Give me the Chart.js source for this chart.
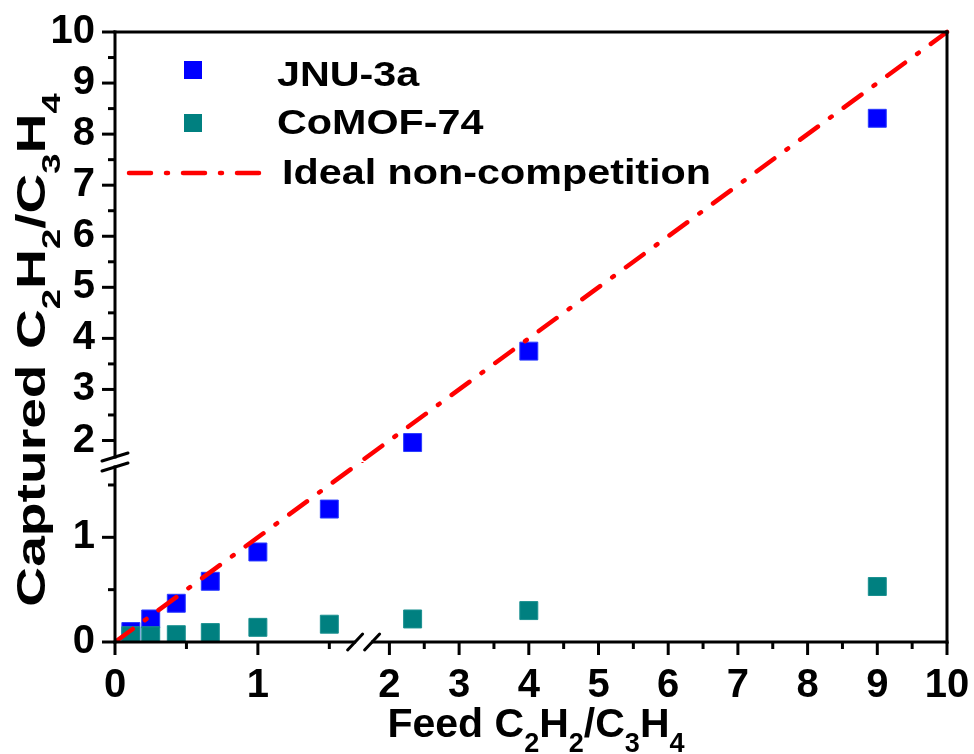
<!DOCTYPE html>
<html>
<head>
<meta charset="utf-8">
<script src="https://cdn.jsdelivr.net/npm/chart.js@4.4.1/dist/chart.umd.min.js"></script>
<style>
  html, body { margin: 0; padding: 0; background: #fff; }
  #wrap { width: 974px; height: 754px; }
</style>
</head>
<body>
<div id="wrap"><canvas id="chart"></canvas></div>
<script>
// feed C2H2/C3H4 ratios (1:9 ... 9:1)
const feedRatio = [0.111, 0.25, 0.429, 0.667, 1, 1.5, 2.333, 4, 9]
const jnu3a = [0.10, 0.22, 0.37, 0.58, 0.86, 1.27, 1.96, 3.75, 8.31]
const comof74 = [0.06, 0.06, 0.07, 0.09, 0.14, 0.17, 0.22, 0.30, 0.53]
const idealX = [0, 10]
const idealY = [0, 10]

// broken axes: lower part 0..lowMax, upper part highMin..10
const xLowMax = 1.74, xHighMin = 1.63
const yLowMax = 1.72, yHighMin = 1.58
const axisMax = 10
const lowZoom = 2.05 // the lower part is drawn about twice as wide per unit

const FONT = '"Liberation Sans", Arial, sans-serif'

const jnuStyle = { pointStyle: 'rect', pointRadius: 12.7, backgroundColor: '#0000ff', borderColor: '#2a3cff', borderWidth: 1 }
const comofStyle = { pointStyle: 'rect', pointRadius: 12.7, backgroundColor: '#008080', borderColor: '#1a9090', borderWidth: 1 }
const idealStyle = { showLine: true, pointRadius: 0, pointHoverRadius: 0, borderColor: '#ff0000', borderWidth: 4.5, borderDash: [22, 15, 2, 15], borderCapStyle: 'round' }

// put every point on the pair of axes that holds it
function splitSeries(label, xs, ys, style) {
  const groups = {}
  xs.forEach((x, i) => {
    const key = (x > xLowMax ? 'xHigh' : 'xLow') + '|' + (ys[i] > yLowMax ? 'yHigh' : 'yLow')
    if (!groups[key]) groups[key] = []
    groups[key].push({ x, y: ys[i] })
  })
  return Object.entries(groups).map(([key, data]) => {
    const [xAxisID, yAxisID] = key.split('|')
    return { label, data, xAxisID, yAxisID, ...style }
  })
}

const idealData = idealX.map((x, i) => ({ x, y: idealY[i] }))
const datasets = [
  { label: 'Ideal non-competition', data: idealData, xAxisID: 'xLow', yAxisID: 'yLow', ...idealStyle },
  { label: 'Ideal non-competition', data: idealData, xAxisID: 'xHigh', yAxisID: 'yHigh', ...idealStyle, borderDashOffset: 20, clip: 6 },
  ...splitSeries('CoMOF-74', feedRatio, comof74, comofStyle),
  ...splitSeries('JNU-3a', feedRatio, jnu3a, jnuStyle),
]

const tickFont = { family: FONT, size: 40, weight: 'bold' }
const intLabel = v => Number.isInteger(v) ? String(v) : ''

function axis(position, stack, min, max, weight, fit) {
  return {
    type: 'linear', position, stack, stackWeight: weight, min, max,
    grid: { display: false, drawTicks: false },
    border: { display: false },
    ticks: {
      stepSize: 0.5, includeBounds: false, autoSkip: false, maxRotation: 0,
      callback: intLabel, color: '#000', font: tickFont,
      padding: 20,
    },
    afterFit: fit,
  }
}
// fixed axis sizes, no extra room for overhanging labels
const fitX = s => { s.height = 112; s.paddingLeft = 0; s.paddingRight = 0 }
const fitY = s => { s.width = 115; s.paddingTop = 0; s.paddingBottom = 0 }

function drawFormula(ctx, parts, x, y, size, align) {
  const widths = parts.map(([t, sub]) => {
    ctx.font = `bold ${sub ? size * 0.66 : size}px ${FONT}`
    return ctx.measureText(t).width
  })
  let cx = align === 'center' ? x - widths.reduce((a, b) => a + b, 0) / 2 : x
  ctx.textAlign = 'left'
  ctx.textBaseline = 'alphabetic'
  parts.forEach(([t, sub], i) => {
    ctx.font = `bold ${sub ? size * 0.66 : size}px ${FONT}`
    ctx.fillText(t, cx, y + (sub ? size * 0.37 : 0))
    cx += widths[i]
  })
}

const formula = [['C'], ['2', 1], ['H'], ['2', 1], ['/C'], ['3', 1], ['H'], ['4', 1]]

const framePlugin = {
  id: 'frame',
  afterDraw(chart) {
    const { ctx } = chart
    const { xLow, xHigh, yLow, yHigh } = chart.scales
    const left = xLow.left, right = xHigh.right, top = yHigh.top, bottom = yLow.bottom
    const xb = xLow.right, yb = yLow.top
    const seg = (x1, y1, x2, y2) => { ctx.beginPath(); ctx.moveTo(x1, y1); ctx.lineTo(x2, y2); ctx.stroke() }

    ctx.save()
    ctx.strokeStyle = '#000'
    ctx.lineWidth = 3
    ctx.lineCap = 'square'
    seg(left, top, right, top)
    seg(right, top, right, bottom)
    seg(left, bottom, xb - 9, bottom)
    seg(xb + 9, bottom, right, bottom)
    seg(left, top, left, yb - 5)
    seg(left, yb + 5, left, bottom)

    ctx.lineCap = 'butt'
    for (const s of [xLow, xHigh]) {
      s.ticks.forEach(t => {
        const p = s.getPixelForValue(t.value)
        seg(p, bottom, p, bottom + (Number.isInteger(t.value) ? 13 : 7))
      })
    }
    for (const s of [yLow, yHigh]) {
      s.ticks.forEach(t => {
        const p = s.getPixelForValue(t.value)
        seg(left, p, left - (Number.isInteger(t.value) ? 13 : 7), p)
      })
    }

    // break marks
    ctx.lineCap = 'round'
    seg(xb - 16, bottom + 8, xb - 1, bottom - 8)
    seg(xb + 1, bottom + 8, xb + 16, bottom - 8)
    seg(left - 13, yb - 1, left + 13, yb - 9)
    seg(left - 13, yb + 9, left + 13, yb + 1)

    // axis titles
    ctx.fillStyle = '#000'
    drawFormula(ctx, [['Feed '], ...formula], (left + right) / 2 + 5, 737, 41, 'center')
    ctx.translate(45, 350)
    ctx.rotate(-Math.PI / 2)
    ctx.scale(1.38, 1)
    drawFormula(ctx, [['Captured '], ...formula], 0, 0, 40, 'center')
    ctx.restore()

    // legend
    ctx.save()
    ctx.fillStyle = jnuStyle.backgroundColor
    ctx.fillRect(184, 61, 18, 18)
    ctx.fillStyle = comofStyle.backgroundColor
    ctx.fillRect(184, 114, 18, 18)
    ctx.strokeStyle = idealStyle.borderColor
    ctx.lineWidth = idealStyle.borderWidth
    ctx.lineCap = 'round'
    ctx.setLineDash(idealStyle.borderDash)
    seg(129, 173, 262, 173)
    ctx.setLineDash([])
    ctx.fillStyle = '#000'
    ctx.font = `bold 35px ${FONT}`
    ctx.textBaseline = 'alphabetic'
    ctx.textAlign = 'left'
    const label = (text, x, y) => {
      ctx.save()
      ctx.translate(x, y)
      ctx.scale(1.18, 1)
      ctx.fillText(text, 0, 0)
      ctx.restore()
    }
    label('JNU-3a', 277, 86)
    label('CoMOF-74', 277, 134)
    label('Ideal non-competition', 282, 184)
    ctx.restore()
  }
}

new Chart(document.getElementById('chart'), {
  type: 'scatter',
  data: { datasets },
  options: {
    responsive: true,
    maintainAspectRatio: false,
    animation: false,
    events: [],
    layout: { padding: { top: 32, right: 27, left: 0, bottom: 0 } },
    plugins: { legend: { display: false }, tooltip: { enabled: false } },
    scales: {
      xLow: axis('bottom', 'x', 0, xLowMax, xLowMax * lowZoom, fitX),
      xHigh: axis('bottom', 'x', xHighMin, axisMax, axisMax - xHighMin, fitX),
      yLow: axis('left', 'y', 0, yLowMax, yLowMax * lowZoom, fitY),
      yHigh: axis('left', 'y', yHighMin, axisMax, axisMax - yHighMin, fitY),
    },
  },
  plugins: [framePlugin],
})
</script>
</body>
</html>
